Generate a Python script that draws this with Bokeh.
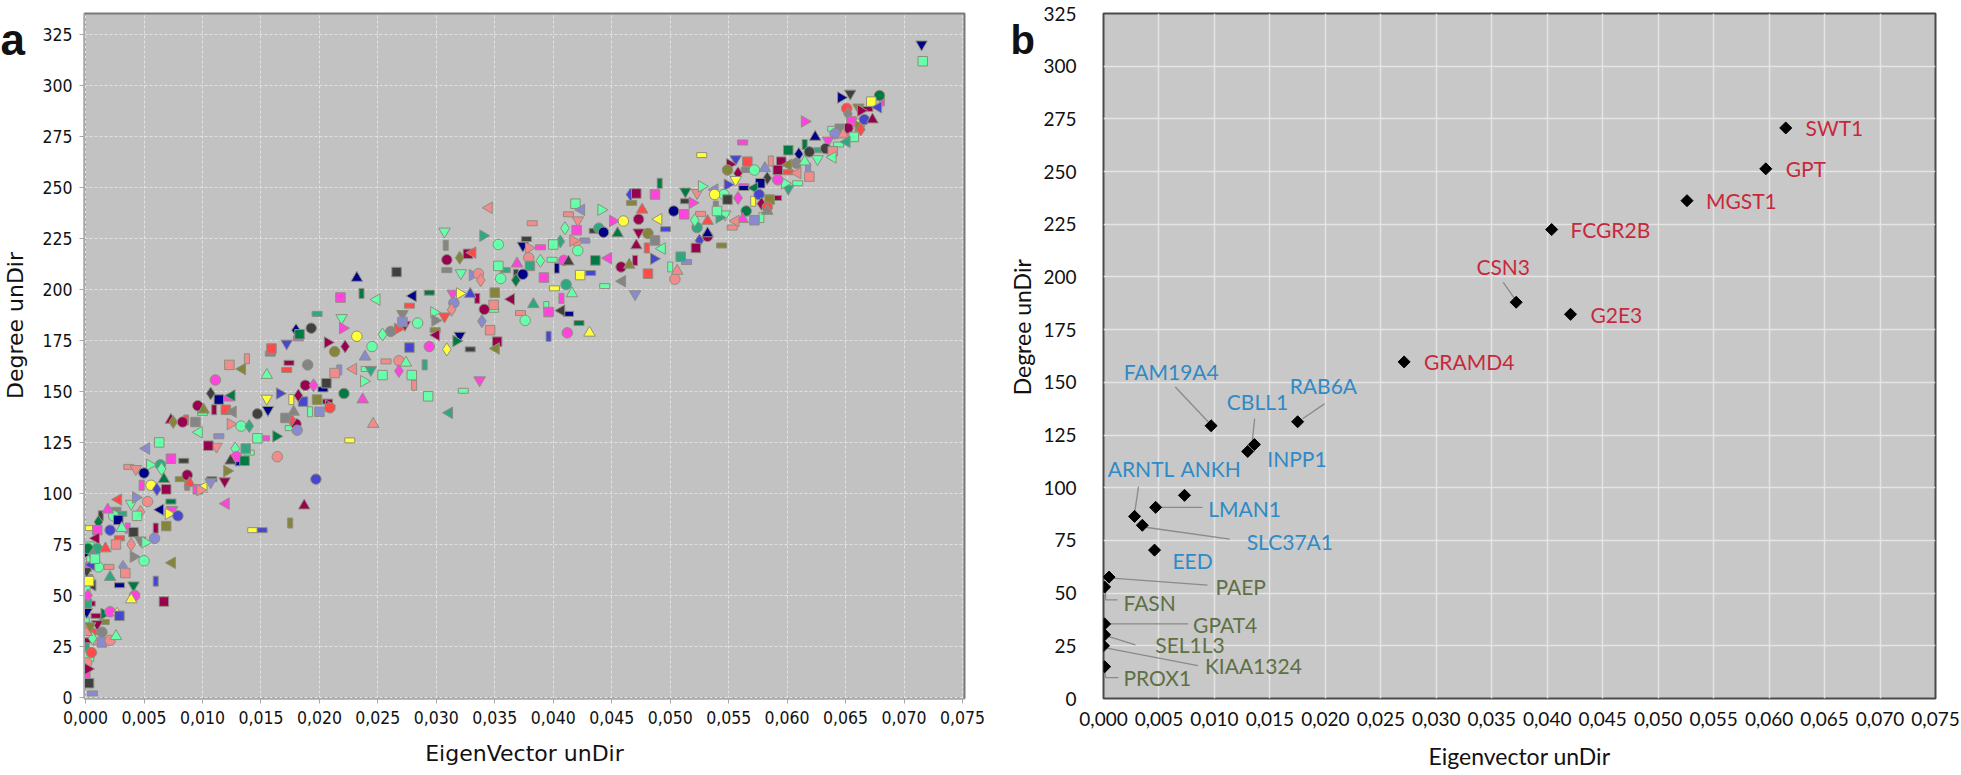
import math
from bokeh.plotting import figure
from bokeh.models import ColumnDataSource, FixedTicker, CustomJSTickFormatter, Range1d
from bokeh.layouts import row
from bokeh.embed import file_html
from bokeh.resources import INLINE
from bokeh.core.properties import value

# ---------------- Panel a data (EigenVector unDir, Degree unDir) ----------------
ev_mid_low = [0.0063,0.0052,0.0037,0.0043,0.0055,0.0064,0.0065,0.0073,0.0084,0.0050,
    0.0067,0.0048,0.0056,0.0061,0.0069,0.0081,0.0087,0.0089,0.0087,0.0096,
    0.0101,0.0108,0.0119,0.0121,0.0073,0.0086,0.0094,0.0097,0.0114,0.0112,
    0.0124,0.0133,0.0140,0.0147,0.0153,0.0147,0.0156,0.0163,0.0164,0.0128,
    0.0137,0.0140,0.0129,0.0124,0.0130,0.0136,0.0120,0.0143,0.0151,0.0096,
    0.0101,0.0110,0.0120,0.0126,0.0100,0.0107,0.0098,0.0083,0.0075,0.0105]
deg_mid_low = [125,122,113,112,114,114,112,117,116,110,
    107,104,104,102,102,107,109,105,104,102,
    103,107,106,111,136,136,135,130,128,123,
    134,133,133,127,127,139,141,128,118,122,
    122,120,118,116,116,116,95,82,82,143,
    141,141,141,140,139.5,105.6,101.6,135,135,123.4]

ev_low = [0.0028,0.0026,0.0039,0.0043,0.0053,0.0047,0.0044,0.0031,0.0024,0.0019,
    0.0013,0.0028,0.0011,0.0010,0.0004,0.0021,0.0031,0.0036,0.0041,0.0064,
    0.0073,0.0074,0.0071,0.0079,0.0060,0.0069,0.0009,0.0029,0.0047,0.0051,
    0.0059,0.0039,0.0026,0.0003,0.0010,0.0017,0.0041,0.0050,0.0032,0.0034,
    0.0020,0.0011,0.0021,0.0003,0.0001,0.0006,0.0029,0.0041,0.0042,0.0039,
    0.0060,0.0067,0.0074,0.0004,0.0001,0.0016,0.0021,0.0027,0.0029,0.0009,
    0.0016,0.0010,0.0007,0.0014,0.0006,0.0014,0.0010,0.0021,0.0026,0.0001,
    0.0003,0.0001,0.0003,0.0006,0.0001,0.0001,0.0001,0.0001,0.0001,0.0002,
    0.0001,0.0001,0.0002,0.0002,0.0003,0.0005,0.0002,0.0004,0.0002,0.0005,
    0.0006,0.0008]
deg_low = [97,92,95,98,96,91,89,90,89,92,
    89,87,86,82,83,82,83,83,81,92,
    96,92,90,89,83,84,78,78,77,76,
    78,75,75,75,73,73,69,67,64,61,
    64,64,59,68,64,55,55,55,50,48,
    57,47,66,46,42,41,42,41,40,40,
    37,36,32,32,29,27,27,28,30,25,
    20,11,7,2,17,32,37,46,53,59,
    62,71,73,50,57,65,28,35,14,22,
    70,68]

ev_sparse = [0.0226,0.0197,0.0187,0.0175,0.0180,0.0176,0.0171,0.0175,0.0181,0.0246,
    0.0281,0.0293,0.0311,0.0323,0.0337,0.0208]
deg_sparse = [126,107,94,85.5,134,136,137,132,131,134,
    153,147.6,139.5,150.3,155.5,143]

ev_band1 = [0.0232,0.0236,0.0218,0.0249,0.0198,0.0219,0.0220,0.0193,0.0180,0.0183,
    0.0182,0.0232,0.0172,0.0207,0.0213,0.0222,0.0159,0.0158,0.0245,0.0239,
    0.0138,0.0123,0.0134,0.0174,0.0172,0.0190,0.0155,0.0217,0.0213,0.0229,
    0.0240,0.0244,0.0238,0.0111,0.0107,0.0114,0.0125,0.0122,0.0155,0.0166,
    0.0188,0.0195,0.0206,0.0203,0.0221,0.0237,0.0176,0.0186,0.0182,0.0198,
    0.0207,0.0209,0.0178,0.0192,0.0200]
deg_band1 = [205.6,198,196,195,188,186,181,181,180,178,
    176,177,173.5,174,169.5,172,171,168.5,172,167,
    166,163,161,164,160.5,163,158,160.5,159,161,
    161,160.6,155,155.6,149,146,148,146.5,146.5,149,
    153,153,154,151,149,146,146,145,148,146,
    145,142,140,140,140]

ev_band2 = [0.0345,0.0382,0.0307,0.0340,0.0353,0.0308,0.0419,0.0424,0.0413,0.0421,
    0.0441,0.0439,0.0410,0.0420,0.0435,0.0443,0.0455,0.0451,0.0460,0.0466,
    0.0471,0.0467,0.0473,0.0476,0.0491,0.0487,0.0490,0.0496,0.0473,0.0481,
    0.0471,0.0480,0.0487,0.0493,0.0427,0.0420,0.0417,0.0421,0.0406,0.0400,
    0.0389,0.0377,0.0374,0.0379,0.0379,0.0389,0.0380,0.0399,0.0409,0.0413,
    0.0403,0.0436,0.0447,0.0423,0.0432,0.0458,0.0465,0.0470,0.0481,0.0459,
    0.0444,0.0470,0.0486,0.0309,0.0320,0.0327,0.0331,0.0309,0.0321,0.0331,
    0.0336,0.0338,0.0353,0.0359,0.0355,0.0369,0.0368,0.0374,0.0368,0.0392,
    0.0401,0.0411,0.0416,0.0407,0.0266,0.0280,0.0294,0.0314,0.0320,0.0329,
    0.0335,0.0350,0.0364,0.0277,0.0271,0.0298,0.0315,0.0313,0.0349,0.0349,
    0.0341,0.0307,0.0299,0.0284,0.0339,0.0346,0.0372,0.0376,0.0383,0.0394,
    0.0396,0.0407,0.0413,0.0422,0.0412,0.0431,0.0396,0.0352,0.0351,0.0329,
    0.0320,0.0317,0.0294,0.0309,0.0277,0.0300,0.0299,0.0273,0.0267,0.0261,
    0.0254,0.0271,0.0257,0.0268,0.0274,0.0290,0.0254,0.0268,0.0279,0.0514,
    0.0504,0.0506,0.0500,0.0509]
deg_band2 = [240,232.4,228.4,226.3,222,221.6,242,239,236.8,233.9,
    239,230,230,229,228.7,228,227.4,233.5,233.5,246.5,
    247,242.4,234.4,239,252,246.5,234.4,229.5,228,227.4,
    221.5,220.3,224,220,223.9,222.3,223.9,219,223.5,222,
    220.6,224.7,221.5,220.3,215.5,214,211.5,214.5,214.2,213.6,
    210.4,214.2,215.3,207,208,211,212,214.2,207.7,204,
    201.6,197.7,215,214.5,215.5,217.4,218,209.4,208,207,
    207.7,204.5,211.5,209.4,205.3,212.6,207.4,207.4,204.5,205.8,
    200.5,202.4,198,195.6,208.5,196.8,198.4,198,198,197.7,
    195.6,198.4,195.2,192,188,188.7,193.3,190,192.4,190,
    190.2,186.8,184.8,183.5,184.4,180,188.4,184.8,192.7,191.6,
    188.9,189.6,188,183.5,178.7,178.7,177,174.4,171,170.6,
    177.4,174.7,172,170.6,171.5,177.6,180,182.7,180.6,179.4,
    177.9,184,164.7,165,164,163,158,160,158,213.4,
    205,209,211,216]

ev_top = [0.0716,0.0715,0.0654,0.0646,0.0679,0.0681,0.0672,0.0678,0.0669,0.0661,
    0.0663,0.0651,0.0652,0.0655,0.0661,0.0666,0.0673,0.0661,0.0652,0.0663,
    0.0645,0.0639,0.0641,0.0648,0.0651,0.0657,0.0651,0.0644,0.0635,0.0633,
    0.0624,0.0615,0.0639,0.0639,0.0627,0.0626,0.0615,0.0619,0.0610,0.0601,
    0.0562,0.0527,0.0556,0.0551,0.0549,0.0558,0.0566,0.0565,0.0572,0.0581,
    0.0586,0.0595,0.0601,0.0592,0.0601,0.0608,0.0615,0.0618,0.0619,0.0609,
    0.0609,0.0601,0.0598,0.0592,0.0583,0.0577,0.0572,0.0563,0.0556,0.0549,
    0.0546,0.0558,0.0549,0.0563,0.0565,0.0562,0.0571,0.0576,0.0578,0.0585,
    0.0591,0.0583,0.0583,0.0578,0.0572,0.0556,0.0553,0.0547,0.0542,0.0532,
    0.0539,0.0540,0.0538,0.0526,0.0523,0.0527,0.0523,0.0521,0.0512,0.0513,
    0.0503,0.0513,0.0519,0.0538,0.0525,0.0522,0.0544,0.0532,0.0532]
deg_top = [311.8,320.1,296,294,295,292.4,292,289.2,288.4,289.2,
    287.6,288.7,286,282.3,282.3,283.2,283.2,280,279,278.4,
    278.7,278.7,276.3,275.8,276.8,274.7,272.3,271,273,269,
    274.7,271,267.7,264.7,268.2,263.9,282.3,267.4,266.3,268.2,
    272,265.8,263.9,261.3,258.5,256.9,262.6,258.5,258.5,259.4,
    262.9,262.6,261,258.5,257.4,261.8,262.6,259.4,255.3,257,
    252,249.4,252,253.7,254.5,252,249.7,250.5,253.7,251.3,
    246.5,244.8,244,249.7,238.4,234.4,243.2,246.5,242,244,
    244.8,240.3,238.4,235.2,233.9,233.5,230.3,236.8,235.2,233.5,
    240.8,238.4,248.9,237,247.3,250.5,230.3,233.9,236.8,243.2,
    238.4,248,242.4,246.5,223.9,220.3,221.5,226,227.4]

# ---------------- Panel b data ----------------
genes = ["SWT1","GPT","MGST1","FCGR2B","CSN3","G2E3","GRAMD4",
         "FAM19A4","RAB6A","CBLL1","INPP1","ARNTL","ANKH","LMAN1","SLC37A1","EED",
         "PAEP","FASN","GPAT4","SEL1L3","KIAA1324","PROX1"]
gene_ev = [0.0615,0.0597,0.0526,0.0404,0.0372,0.0421,0.0271,
           0.0097,0.0175,0.0130,0.0136,0.0028,0.0073,0.0047,0.0035,0.0046,
           0.0005,0.0001,0.0001,0.0001,0.0000,0.0001]
gene_deg = [270.7,251.3,236.2,222.5,188.0,182.3,159.7,
            129.4,131.3,117.2,120.5,86.4,96.4,90.7,82.2,70.4,
            57.6,52.9,35.4,30.2,25.0,15.1]
gene_group = ["hub"]*7 + ["mid"]*9 + ["low"]*6

# ---------------- styles / layout ----------------
GROUP_COLOR = {"hub": "#c8283c", "mid": "#2f8ac6", "low": "#5e7044"}
SHAPES = ["square", "circle", "triangle", "inverted_triangle", "hbar", "tri_left",
          "diamond", "vbar", "tri_right", "circle", "hbar", "square"]
COLORS = ["#66ffaa", "#ff44dd", "#f28c8c", "#99004d", "#66ffaa", "#ff4a4a", "#000088",
          "#8a8ad0", "#ffff3a", "#66ffaa", "#85853a", "#ff44dd", "#858585", "#007a44",
          "#f28c8c", "#4646d0", "#2fa882", "#99004d", "#404040"]
SIZES = {"square": 9.5, "circle": 10.5, "triangle": 11.5, "inverted_triangle": 11.5,
         "diamond": 13, "tri_left": 11.5, "tri_right": 11.5}
# the two isolated top-right points keep their own look
STYLE_OVERRIDE = {367: ("square", "#66ffaa"), 368: ("inverted_triangle", "#000088")}

# label offsets in pixels (dx right, dy down) relative to each diamond
LABEL_OFF = {"SWT1": (20, 0), "GPT": (20, 0), "MGST1": (19, 0), "FCGR2B": (19, 0),
             "CSN3": (-40, -36), "G2E3": (20, 0), "GRAMD4": (20, 0),
             "FAM19A4": (-88, -55), "RAB6A": (-8, -36), "CBLL1": (-21, -50),
             "INPP1": (13, 14), "ARNTL": (-27, -48), "ANKH": (-4, -27),
             "LMAN1": (53, 1), "SLC37A1": (105, 16), "EED": (18, 10),
             "PAEP": (107, 9), "FASN": (19, 16), "GPAT4": (89, 1), "SEL1L3": (51, 10),
             "KIAA1324": (102, 20), "PROX1": (19, 11)}
LEADERS = {"CSN3": [(-13, -20), (-1, -3)], "FAM19A4": [(-36, -39), (-3, -4)],
           "RAB6A": [(27, -18), (5, -3)], "CBLL1": [(7, -33), (4, -5)],
           "ARNTL": [(4, -30), (0, -3)], "LMAN1": [(5, 0), (47, 0)],
           "SLC37A1": [(3, 2), (88, 14)], "PAEP": [(3, 1), (99, 8)],
           "FASN": [(1, 3), (1, 13), (13, 13)], "GPAT4": [(3, 0), (84, 0)],
           "SEL1L3": [(2, 1), (31, 10)], "KIAA1324": [(2, 2), (95, 20)],
           "PROX1": [(0, 3), (1, 11), (14, 11)]}

fmt = CustomJSTickFormatter(code="return tick.toFixed(3).replace('.', ',');")
xticks = [round(i * 0.005, 3) for i in range(16)]
yticks = list(range(0, 326, 25))

H = 775
A_FONT = "DejaVu Sans Condensed"
A_TITLE_FONT = "DejaVu Sans"
B_FONT = "Lato"


def strip(width, items):
    """A plain white strip holding the panel letter and the rotated y-axis title."""
    s = figure(width=width, height=H, x_range=Range1d(0, width), y_range=Range1d(0, H),
               output_backend="svg", toolbar_location=None,
               x_axis_location=None, y_axis_location=None,
               min_border_left=0, min_border_right=0, min_border_top=0, min_border_bottom=0)
    s.grid.visible = False
    s.outline_line_color = None
    s.background_fill_color = "#ffffff"
    for (tx, ty, txt, font, size, style, ang, align, base) in items:
        s.text(x=[tx], y=[H - ty], text=[txt], text_font=value(font), text_font_size=size,
               text_font_style=style, angle=ang, text_align=align, text_baseline=base,
               text_color="#111111")
    return s


# ================= Panel a =================
sa = strip(34, [(0, 29, "a", "Liberation Sans", "44px", "bold", 0, "left", "alphabetic"),
                (15, 353, "Degree unDir", A_TITLE_FONT, "22px", "normal", math.pi / 2, "center", "middle")])

pa = figure(width=966, height=H, x_range=Range1d(-0.00009, 0.07517), y_range=Range1d(-0.5, 335.2),
            output_backend="svg", toolbar_location=None,
            min_border_left=50, min_border_right=36, min_border_top=8, min_border_bottom=77)
pa.background_fill_color = "#c2c2c2"
pa.outline_line_color = "#7a7a7a"
pa.outline_line_width = 2
for g in (pa.xgrid, pa.ygrid):
    g.grid_line_color = "#e2e2e2"
    g.grid_line_dash = "3 2"
    g.grid_line_width = 1
pa.xaxis.ticker = FixedTicker(ticks=xticks)
pa.yaxis.ticker = FixedTicker(ticks=yticks)
pa.xaxis.formatter = fmt
for ax in (pa.xaxis[0], pa.yaxis[0]):
    ax.axis_line_color = "#a8a8a8"
    ax.major_tick_line_color = "#a8a8a8"
    ax.major_tick_out = 5
    ax.major_tick_in = 0
    ax.minor_tick_line_color = None
    ax.major_label_text_font = A_FONT
    ax.major_label_text_font_size = "17.5px"
    ax.major_label_text_color = "#111111"
    ax.major_label_standoff = 7
    ax.axis_label_text_font = A_TITLE_FONT
    ax.axis_label_text_font_size = "22px"
    ax.axis_label_text_font_style = "normal"
    ax.axis_label_text_color = "#111111"
pa.xaxis.axis_label = "EigenVector unDir"
pa.xaxis.axis_label_standoff = 14

ev_all = ev_mid_low + ev_low + ev_sparse + ev_band1 + ev_band2 + ev_top
deg_all = deg_mid_low + deg_low + deg_sparse + deg_band1 + deg_band2 + deg_top

sc = dict(x=[], y=[], marker=[], angle=[], fc=[], sz=[])
rc = dict(x=[], y=[], w=[], h=[], fc=[])
for i, (xv, yv) in enumerate(zip(ev_all, deg_all)):
    shp = SHAPES[(i * 5 + i // 12) % len(SHAPES)]
    col = COLORS[(i * 7 + i // 19) % len(COLORS)]
    if i in STYLE_OVERRIDE:
        shp, col = STYLE_OVERRIDE[i]
    if shp in ("hbar", "vbar"):
        rc["x"].append(xv); rc["y"].append(yv); rc["fc"].append(col)
        rc["w"].append(10 if shp == "hbar" else 5)
        rc["h"].append(5 if shp == "hbar" else 10)
        continue
    ang = 0.0
    mk = shp
    if shp == "tri_left":
        mk, ang = "triangle", math.pi / 2
    elif shp == "tri_right":
        mk, ang = "triangle", -math.pi / 2
    sc["x"].append(xv); sc["y"].append(yv); sc["marker"].append(mk)
    sc["angle"].append(ang); sc["fc"].append(col); sc["sz"].append(SIZES[shp])

pa.rect(x="x", y="y", width="w", height="h", width_units="screen", height_units="screen",
        fill_color="fc", line_color="#8e8e80", line_width=1, source=ColumnDataSource(rc))
pa.scatter(x="x", y="y", marker="marker", angle="angle", size="sz", fill_color="fc",
           line_color="#8e8e80", line_width=1, source=ColumnDataSource(sc))

# ================= Panel b =================
sb = strip(40, [(10, 30, "b", "Liberation Sans", "40px", "bold", 0, "left", "alphabetic"),
                (21, 355, "Degree unDir", B_FONT, "23px", "normal", math.pi / 2, "center", "middle")])

WB = 921
pb = figure(width=WB, height=H, x_range=Range1d(0, 0.075), y_range=Range1d(0, 325),
            output_backend="svg", toolbar_location=None,
            min_border_left=58, min_border_right=26, min_border_top=13, min_border_bottom=73)
pb.background_fill_color = "#c8c8c8"
pb.outline_line_color = "#4a4a4a"
pb.outline_line_width = 2
for g in (pb.xgrid, pb.ygrid):
    g.grid_line_color = "#e4e4e4"
    g.grid_line_width = 1.5
pb.xaxis.ticker = FixedTicker(ticks=xticks)
pb.yaxis.ticker = FixedTicker(ticks=yticks)
pb.xaxis.formatter = fmt
for ax in (pb.xaxis[0], pb.yaxis[0]):
    ax.axis_line_color = None
    ax.major_tick_line_color = None
    ax.minor_tick_line_color = None
    ax.major_label_text_font = B_FONT
    ax.major_label_text_font_size = "19px"
    ax.major_label_text_color = "#111111"
    ax.axis_label_text_font = B_FONT
    ax.axis_label_text_font_size = "23px"
    ax.axis_label_text_font_style = "normal"
    ax.axis_label_text_color = "#111111"
pb.xaxis.major_label_standoff = 7
pb.xaxis.axis_label_standoff = 13
pb.yaxis.major_label_standoff = 21
pb.xaxis.axis_label = "Eigenvector unDir"

SX = (WB - 58 - 26) / 0.075
SY = (H - 13 - 73) / 325.0

lx, ly, lt, lc = [], [], [], []
ldx, ldy = [], []
for gname, gx, gy, grp in zip(genes, gene_ev, gene_deg, gene_group):
    dx, dy = LABEL_OFF[gname]
    lx.append(gx + dx / SX); ly.append(gy - dy / SY); lt.append(gname); lc.append(GROUP_COLOR[grp])
    if gname in LEADERS:
        pts = LEADERS[gname]
        ldx.append([gx + px / SX for px, _ in pts])
        ldy.append([gy - py / SY for _, py in pts])

pb.multi_line(xs=ldx, ys=ldy, line_color="#8a8a8a", line_width=1.3)
pb.scatter(x=gene_ev, y=gene_deg, marker="square", angle=math.pi / 4, size=8.5,
           fill_color="#000000", line_color="#000000")
pb.text(x="x", y="y", text="t", text_color="c", text_font=value(B_FONT), text_font_size="21px",
        text_align="left", text_baseline="middle",
        source=ColumnDataSource(dict(x=lx, y=ly, t=lt, c=lc)))

layout = row(sa, pa, sb, pb)
open("out.html", "w").write(file_html(layout, INLINE))
